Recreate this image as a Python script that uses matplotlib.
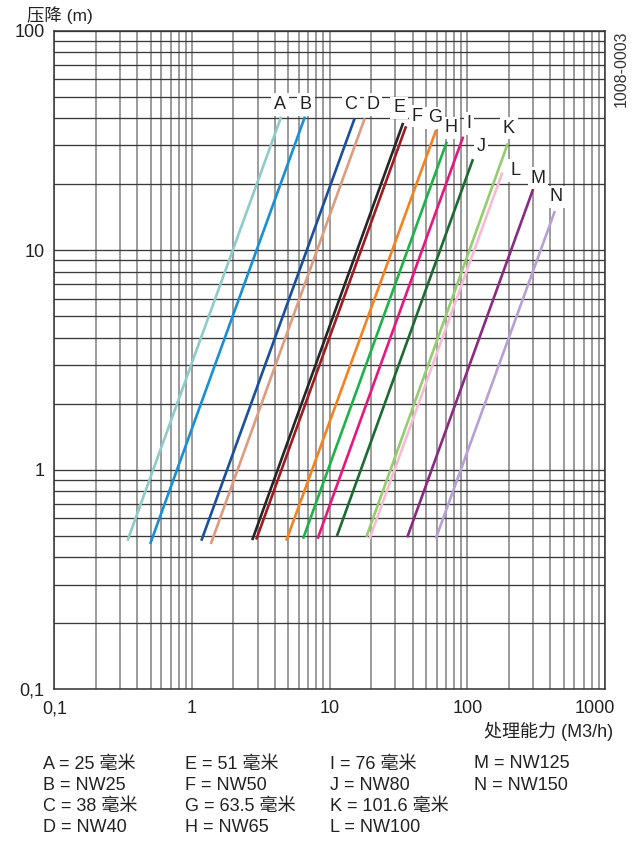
import matplotlib
matplotlib.use('Agg')
import matplotlib.pyplot as plt
from matplotlib.ticker import LogLocator, FixedLocator, NullFormatter
from matplotlib.transforms import ScaledTranslation

plt.rcParams['font.family'] = ['Liberation Sans', 'Noto Sans CJK SC', 'DejaVu Sans']

# line id, flow (M3/h) at bottom and top end, pressure drop (m) at both ends
names = ['A', 'B', 'C', 'D', 'E', 'F', 'G', 'H', 'I', 'J', 'K', 'L', 'M', 'N']
flow_low = [0.34, 0.497, 1.17, 1.37, 2.74, 2.93, 4.84, 6.41, 8.18, 11.3, 18.5, 19.5, 36.6, 59.0]
flow_high = [4.45, 6.62, 15.2, 18.0, 34.2, 35.9, 59.4, 71.0, 93.3, 110, 197, 180, 301, 433]
dp_low = [0.475, 0.459, 0.475, 0.459, 0.478, 0.481, 0.475, 0.485, 0.485, 0.499, 0.495, 0.485, 0.492, 0.485]
dp_high = [40.6, 40.6, 39.9, 39.9, 38.0, 36.7, 35.3, 31.2, 32.9, 26.0, 30.7, 22.6, 19.0, 15.1]

legend_items = ['A = 25 毫米', 'B = NW25', 'C = 38 毫米', 'D = NW40',
                'E = 51 毫米', 'F = NW50', 'G = 63.5 毫米', 'H = NW65',
                'I = 76 毫米', 'J = NW80', 'K = 101.6 毫米', 'L = NW100',
                'M = NW125', 'N = NW150']

colors = ['#8ecbc9', '#1a8fd6', '#1c4f9c', '#dd9b80', '#262626', '#a01c22', '#f58220',
          '#1fb24a', '#e6177d', '#1c6b33', '#93cd6f', '#f7bcd3', '#8a2a80', '#b9a0d3']
# where each letter sits relative to the top end of its line (pixels)
label_off = [(-1, 12), (1, 12), (-4, 14), (8, 14), (-4, 15), (11, 10), (-1, 12),
             (4, 14), (6, 13), (8, 13), (1, 15), (13, 2), (5, 11), (1, 14)]

fig = plt.figure(figsize=(6.37, 8.41), dpi=100)
ax = fig.add_axes([0.0852, 0.1804, 0.8645, 0.7831])
ax.set_xscale('log')
ax.set_yscale('log')
ax.set_xlim(0.1, 1000)
ax.set_ylim(0.1, 100)

# grid
ax.xaxis.set_major_locator(FixedLocator([0.1, 1, 10, 100, 1000]))
ax.yaxis.set_major_locator(FixedLocator([0.1, 1, 10, 100]))
ax.xaxis.set_minor_locator(LogLocator(base=10, subs=range(2, 10)))
ax.yaxis.set_minor_locator(LogLocator(base=10, subs=range(2, 10)))
ax.xaxis.set_minor_formatter(NullFormatter())
ax.yaxis.set_minor_formatter(NullFormatter())
ax.set_xticklabels(['0,1', '1', '10', '100', '1000'])
ax.set_yticklabels(['0,1', '1', '10', '100'])
ax.grid(True, axis='x', which='both', color='#808080', lw=1.1)
ax.grid(True, axis='y', which='both', color='#3a3a3a', lw=0.95)
ax.set_axisbelow(True)
ax.tick_params(which='both', length=0, labelsize=13, labelcolor='#222222')
ax.tick_params(axis='x', pad=8)
ax.tick_params(axis='y', pad=7)
for s in ax.spines.values():
    s.set_color('#333333')
    s.set_linewidth(1.1)

# the last x label sits a bit left of its grid line, like in the print
last = ax.get_xticklabels()[-1]
last.set_transform(last.get_transform() + ScaledTranslation(-0.1, 0, fig.dpi_scale_trans))

for i in range(len(names)):
    ax.plot([flow_low[i], flow_high[i]], [dp_low[i], dp_high[i]], color=colors[i], lw=1.9,
            solid_capstyle='butt')
    ax.annotate(names[i], (flow_high[i], dp_high[i]), xytext=label_off[i],
                textcoords='offset pixels', ha='center', va='center', fontsize=13,
                color='#222222',
                bbox=dict(boxstyle='square,pad=0.15', fc='white', ec='none'))

fig.text(27 / 637, 1 - 15 / 841, '压降 (m)', fontsize=12.5, ha='left', va='center',
         color='#222222')
fig.text(613 / 637, 1 - 731 / 841, '处理能力 (M3/h)', fontsize=13, ha='right', va='center',
         color='#222222')
fig.text(621 / 637, 1 - 69 / 841, '1008-0003', fontsize=11.5, rotation=90,
         ha='center', va='center', color='#333333')

# legend in four columns
col_x = [43, 185, 330, 474]
row_y = [764, 785, 806, 827]
for k, item in enumerate(legend_items):
    c, r = k // 4, k % 4
    fig.text(col_x[c] / 637, 1 - row_y[r] / 841, item, fontsize=13,
             ha='left', va='center', color='#222222')

fig.savefig('out.png', dpi=100)
